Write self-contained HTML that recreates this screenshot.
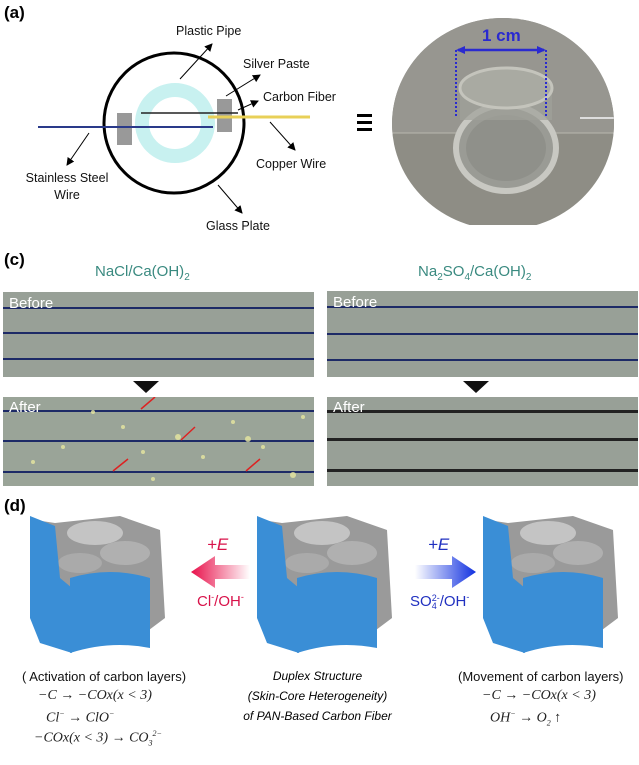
<!DOCTYPE html>
<html><head><meta charset="utf-8"><style>
body{margin:0;width:639px;height:765px;background:#fff;position:relative;overflow:hidden;font-family:"Liberation Sans",sans-serif}
.a{position:absolute}
.lbl{font-weight:bold;font-size:17px}
.t{font-size:12.5px;color:#111}
.photo{background:#98a097;overflow:hidden}
.ln{position:absolute;left:0;right:0;height:2px;background:#1d2a66}
.pt{color:#fff;font-size:15px;position:absolute;left:6px}
.tri{position:absolute;width:0;height:0;border-left:13px solid transparent;border-right:13px solid transparent;border-top:12px solid #111}
.eq{font-family:"Liberation Serif",serif;font-style:italic;font-size:14px;color:#222;white-space:nowrap}
</style></head><body>
<div class="a lbl" style="left:4px;top:3px">(a)</div>
<svg class="a" style="left:0;top:0" width="639" height="250">
<defs><marker id="ar" markerWidth="8" markerHeight="8" refX="7" refY="4" orient="auto"><path d="M0,0L8,4L0,8z" fill="#000"/></marker></defs>
<ellipse cx="174" cy="123" rx="70" ry="70" fill="none" stroke="#000" stroke-width="3"/>
<circle cx="175" cy="123" r="33" fill="none" stroke="#c8f1f0" stroke-width="14"/>
<rect x="217" y="99" width="15" height="33" fill="#999"/>
<rect x="117" y="113" width="15" height="32" fill="#999"/>
<line x1="38" y1="127" x2="213" y2="127" stroke="#2a3a8a" stroke-width="2"/>
<line x1="208" y1="117" x2="310" y2="117" stroke="#e8d058" stroke-width="3"/>
<line x1="141" y1="113" x2="238" y2="113" stroke="#222" stroke-width="1.5"/>
<line x1="180" y1="79" x2="212" y2="44" stroke="#000" marker-end="url(#ar)"/>
<line x1="226" y1="96" x2="260" y2="75" stroke="#000" marker-end="url(#ar)"/>
<line x1="238" y1="110" x2="258" y2="101" stroke="#000" marker-end="url(#ar)"/>
<line x1="270" y1="122" x2="295" y2="150" stroke="#000" marker-end="url(#ar)"/>
<line x1="89" y1="133" x2="67" y2="165" stroke="#000" marker-end="url(#ar)"/>
<line x1="218" y1="185" x2="242" y2="213" stroke="#000" marker-end="url(#ar)"/>
<clipPath id="cp"><ellipse cx="503" cy="124" rx="111" ry="106"/></clipPath>
<g clip-path="url(#cp)">
<rect x="390" y="15" width="230" height="210" fill="#8e8d85"/>
<rect x="390" y="15" width="230" height="118" fill="#979690"/>
<line x1="390" y1="133" x2="620" y2="133" stroke="#b8b8ae"/>
<line x1="580" y1="118" x2="620" y2="118" stroke="#ddd" stroke-width="2"/>
<ellipse cx="506" cy="148" rx="50" ry="43" fill="#9a9b95" stroke="#c8c8c2" stroke-width="6"/>
<ellipse cx="506" cy="148" rx="40" ry="33" fill="#8f908a"/>
<rect x="460" y="88" width="92" height="32" fill="#a0a19a" opacity=".7"/>
<ellipse cx="506" cy="88" rx="46" ry="20" fill="#a9aaa2" stroke="#c4c4bc" stroke-width="3"/>
</g>
<line x1="456" y1="50" x2="456" y2="117" stroke="#2a2ad0" stroke-width="2" stroke-dasharray="2,2"/>
<line x1="546" y1="50" x2="546" y2="117" stroke="#2a2ad0" stroke-width="2" stroke-dasharray="2,2"/>
<line x1="458" y1="50" x2="544" y2="50" stroke="#2a2ad0" stroke-width="2.5"/>
<path d="M456,50l9,-4v8z M546,50l-9,-4v8z" fill="#2a2ad0"/>
<text x="482" y="41" fill="#2a2ad0" font-size="17" font-weight="bold" font-family="Liberation Sans">1 cm</text>
<rect x="357" y="114" width="15" height="3"/><rect x="357" y="121" width="15" height="3"/><rect x="357" y="128" width="15" height="3"/>
</svg>
<div class="a t" style="left:176px;top:24px">Plastic Pipe</div>
<div class="a t" style="left:243px;top:57px">Silver Paste</div>
<div class="a t" style="left:263px;top:90px">Carbon Fiber</div>
<div class="a t" style="left:256px;top:157px">Copper Wire</div>
<div class="a t" style="left:12px;top:170px;text-align:center;width:110px;line-height:17px">Stainless Steel<br>Wire</div>
<div class="a t" style="left:206px;top:219px">Glass Plate</div>

<div class="a lbl" style="left:4px;top:250px">(c)</div>
<div class="a" style="left:95px;top:263px;color:#3a8a80;font-size:15px">NaCl/Ca(OH)<sub style="font-size:10px">2</sub></div>
<div class="a" style="left:418px;top:263px;color:#3a8a80;font-size:15px">Na<sub style="font-size:10px">2</sub>SO<sub style="font-size:10px">4</sub>/Ca(OH)<sub style="font-size:10px">2</sub></div>
<div class="a photo" style="left:3px;top:292px;width:311px;height:85px"><div class="ln" style="top:15px"></div><div class="ln" style="top:40px"></div><div class="ln" style="top:66px"></div><div class="pt" style="top:3px">Before</div></div>
<div class="a photo" style="left:327px;top:291px;width:311px;height:86px"><div class="ln" style="top:15px"></div><div class="ln" style="top:42px"></div><div class="ln" style="top:68px"></div><div class="pt" style="top:3px">Before</div></div>
<div class="tri" style="left:133px;top:381px"></div><div class="tri" style="left:463px;top:381px"></div>
<div class="a photo" style="left:3px;top:397px;width:311px;height:89px;background:#9aa498"><div class="ln" style="top:13px"></div><div class="ln" style="top:43px"></div><div class="ln" style="top:74px"></div><div class="pt" style="top:2px">After</div>
<svg class="a" style="left:0;top:0" width="311" height="89" stroke="#d22" stroke-width="1.5"><line x1="152" y1="0" x2="138" y2="12"/><line x1="192" y1="30" x2="178" y2="43"/><line x1="125" y1="62" x2="110" y2="74"/><line x1="257" y1="62" x2="243" y2="74"/>
<g fill="#e8e8a0" stroke="none" opacity=".8"><circle cx="90" cy="15" r="2"/><circle cx="120" cy="30" r="2"/><circle cx="175" cy="40" r="3"/><circle cx="200" cy="60" r="2"/><circle cx="60" cy="50" r="2"/><circle cx="230" cy="25" r="2"/><circle cx="290" cy="78" r="3"/><circle cx="150" cy="82" r="2"/><circle cx="260" cy="50" r="2"/><circle cx="30" cy="65" r="2"/><circle cx="300" cy="20" r="2"/><circle cx="245" cy="42" r="3"/><circle cx="140" cy="55" r="2"/></g></svg></div>
<div class="a photo" style="left:327px;top:397px;width:311px;height:89px"><div class="ln" style="top:13px;height:3px;background:#222"></div><div class="ln" style="top:41px;height:3px;background:#222"></div><div class="ln" style="top:72px;height:3px;background:#222"></div><div class="pt" style="top:2px">After</div></div>

<div class="a lbl" style="left:4px;top:496px">(d)</div>
<svg class="a" style="left:0;top:508px" width="639" height="150">
<defs><linearGradient id="rg" x1="0" x2="1"><stop offset="0" stop-color="#e8104a"/><stop offset="1" stop-color="#fff"/></linearGradient>
<linearGradient id="bg" x1="0" x2="1"><stop offset="0" stop-color="#fff"/><stop offset="1" stop-color="#1030e0"/></linearGradient>
<g id="s">
<path d="M55,15 L120,8 L160,22 L165,110 L145,125 L60,135 L35,110 L35,12z" fill="#9a9a9a"/>
<ellipse cx="95" cy="25" rx="28" ry="12" fill="#c4c4c4"/><ellipse cx="125" cy="45" rx="25" ry="12" fill="#b0b0b0"/>
<ellipse cx="80" cy="55" rx="22" ry="10" fill="#aaa"/>
<path d="M70,70 Q110,58 150,70 L150,140 Q110,132 70,145z" fill="#3a8ed6"/>
<path d="M30,8 L55,18 L60,70 L72,80 L72,145 L40,135 L30,110z" fill="#3a8ed6"/>
</g></defs>
<use href="#s"/>
<use href="#s" x="227"/>
<use href="#s" x="453"/>
<path d="M191,64 L215,48 V57 H250 V71 H215 V80z" fill="url(#rg)"/>
<path d="M476,64 L452,48 V57 H415 V71 H452 V80z" fill="url(#bg)"/>
</svg>
<div class="a" style="left:207px;top:535px;color:#d8124a;font-size:17px;font-style:italic">+E</div>
<div class="a" style="left:197px;top:592px;color:#d8124a;font-size:15px">Cl<sup style="font-size:9px">-</sup>/OH<sup style="font-size:9px">-</sup></div>
<div class="a" style="left:428px;top:535px;color:#2030c0;font-size:17px;font-style:italic">+E</div>
<div class="a" style="left:410px;top:592px;color:#2030c0;font-size:15px">SO<span style="font-size:9px;display:inline-block;line-height:8px;vertical-align:-3px">2-<br>4</span>/OH<sup style="font-size:9px">-</sup></div>
<div class="a t" style="left:22px;top:669px;font-size:13px">( Activation of carbon layers)</div>
<div class="a eq" style="left:38px;top:688px">−C → −COx(x &lt; 3)</div>
<div class="a eq" style="left:46px;top:709px">Cl<sup style="font-size:8px">−</sup> → ClO<sup style="font-size:8px">−</sup></div>
<div class="a eq" style="left:34px;top:729px">−COx(x &lt; 3) → CO<sub style="font-size:8px">3</sub><sup style="font-size:8px">2−</sup></div>
<div class="a" style="left:225px;top:666px;width:185px;text-align:center;font-size:12px;font-style:italic;line-height:20px">Duplex Structure<br>(Skin-Core Heterogeneity)<br>of PAN-Based Carbon Fiber</div>
<div class="a t" style="left:458px;top:669px;font-size:13px">(Movement  of carbon layers)</div>
<div class="a eq" style="left:482px;top:688px">−C → −COx(x &lt; 3)</div>
<div class="a eq" style="left:490px;top:709px">OH<sup style="font-size:8px">−</sup> → O<sub style="font-size:8px">2</sub> ↑</div>
</body></html>
